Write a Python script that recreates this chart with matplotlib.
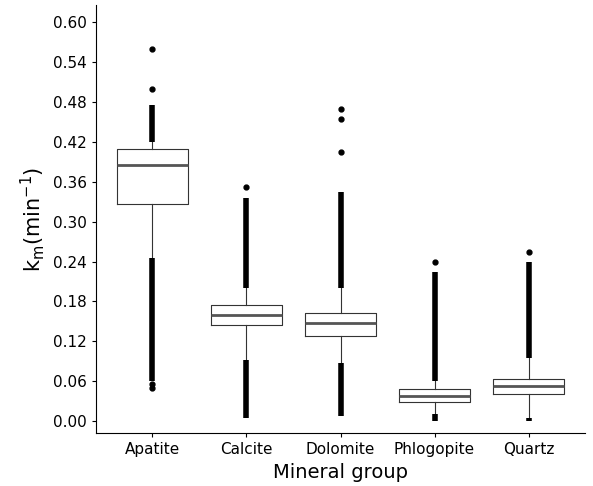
import matplotlib.pyplot as plt

groups = ['Apatite', 'Calcite', 'Dolomite', 'Phlogopite', 'Quartz']
q1 = [0.326, 0.145, 0.128, 0.028, 0.040]
med = [0.385, 0.160, 0.147, 0.038, 0.052]
q3 = [0.410, 0.175, 0.162, 0.048, 0.063]
whislo = [0.245, 0.092, 0.087, 0.010, 0.005]
whishi = [0.420, 0.200, 0.200, 0.060, 0.095]
# dense outlier bands (lo, hi) that render as solid runs of points
bands = [[(0.060, 0.245), (0.420, 0.475)],
         [(0.005, 0.092), (0.200, 0.335)],
         [(0.008, 0.087), (0.200, 0.345)],
         [(0.000, 0.010), (0.060, 0.225)],
         [(0.000, 0.005), (0.095, 0.240)]]
# isolated outliers
points = [[0.050, 0.055, 0.500, 0.560],
          [0.352],
          [0.405, 0.455, 0.470],
          [0.240],
          [0.255]]

fig = plt.figure(figsize=(5.93, 4.86), dpi=100)
ax = fig.add_axes([96/593, 1-433/486, (585-96)/593, (433-5)/486])

stats = [dict(q1=a, med=m, q3=b, whislo=lo, whishi=hi, fliers=[]) for a, m, b, lo, hi in zip(q1, med, q3, whislo, whishi)]
ax.bxp(stats, positions=range(1, 6), widths=0.75, showcaps=False, patch_artist=False,
       boxprops=dict(color='#333333', lw=0.8), whiskerprops=dict(color='#333333', lw=0.8),
       medianprops=dict(color='#555555', lw=2))
for i, (bs, ps) in enumerate(zip(bands, points), start=1):
    for lo, hi in bs:
        ax.vlines(i, lo, hi, color='black', lw=4)
    ax.plot([i] * len(ps), ps, 'o', color='black', ms=3.5)

ax.set_xlim(0.4, 5.6)
ax.set_ylim(-0.018, 0.626)
ax.set_yticks([0.00, 0.06, 0.12, 0.18, 0.24, 0.30, 0.36, 0.42, 0.48, 0.54, 0.60])
ax.set_yticklabels([f'{v:.2f}' for v in ax.get_yticks()])
ax.set_xticks(range(1, 6))
ax.set_xticklabels(groups)
ax.tick_params(labelsize=11, colors='black', length=3)
for s in ['top', 'right']:
    ax.spines[s].set_visible(False)
ax.set_xlabel('Mineral group', fontsize=14)
ax.set_ylabel(r'k$_\mathregular{m}$(min$^\mathregular{-1}$)', fontsize=15)
fig.savefig('out.png', dpi=100)
